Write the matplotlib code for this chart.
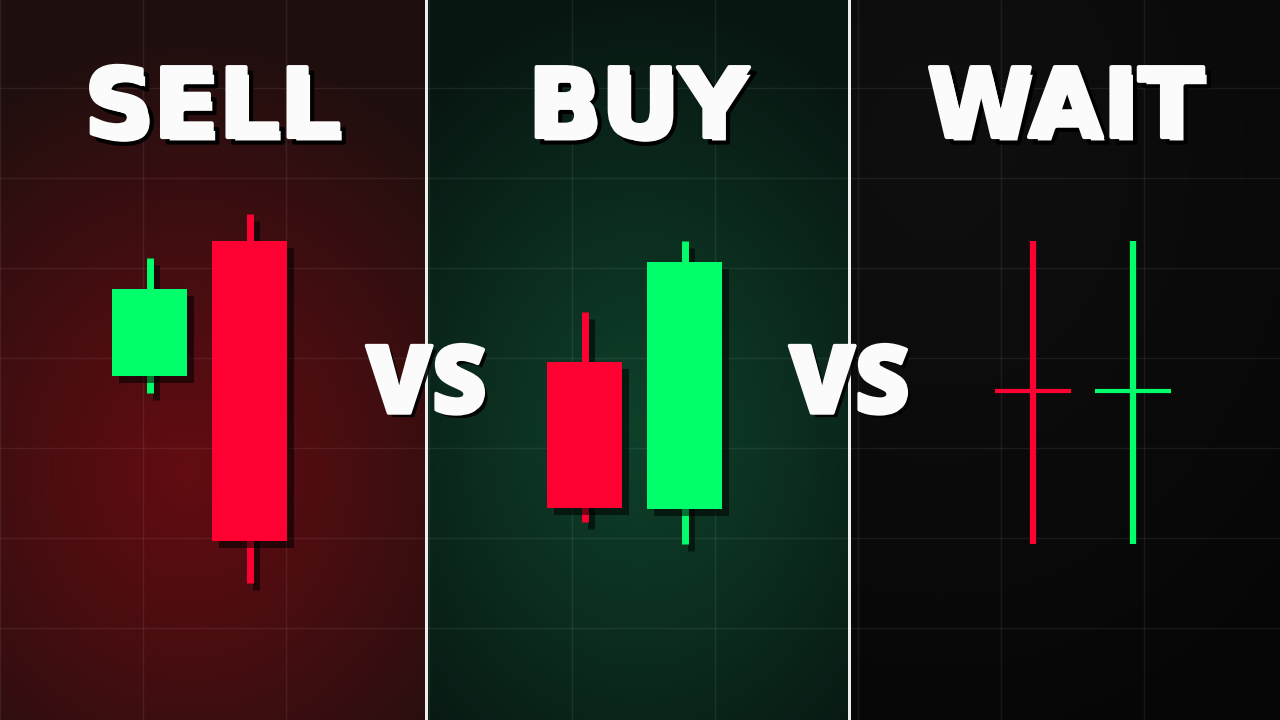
import numpy as np
import matplotlib
matplotlib.use("Agg")
import matplotlib.pyplot as plt
import matplotlib.patheffects as pe

# Candle data (arbitrary price units), one list per series
titles = ["SELL", "BUY", "WAIT"]

sell_open = [34.2, 47.7]
sell_high = [46.0, 50.4]
sell_low = [32.5, 13.5]
sell_close = [42.9, 17.7]

buy_open = [35.6, 20.9]
buy_high = [40.6, 47.7]
buy_low = [19.6, 17.4]
buy_close = [21.0, 45.6]

wait_open = [32.7, 32.7]
wait_high = [47.7, 47.7]
wait_low = [17.4, 17.4]
wait_close = [32.7, 32.7]
wait_side = ["bear", "bull"]  # dojis: colour is not given by open/close

RED = "#ff0033"
GREEN = "#00ff6a"

# layout (pixels of a 1280x720 canvas)
W, H = 1280, 720
panels_px = [(0, 425), (428, 848), (851, 1280)]
first_candle_px = [149.5, 584.5, 1033]
step_px = 100.0
grid_px = 143.0
ylim = (-0.2, 71.8)  # price = (718 - pixel_y) / 10

glows = [
    # centre (px), radii (px), inner rgb, outer rgb
    ((190, 470), (380, 440), (98, 12, 18), (30, 15, 14)),
    ((640, 430), (330, 430), (14, 64, 42), (8, 22, 17)),
    ((940, 150), (520, 650), (15, 15, 15), (6, 6, 6)),
]

fig = plt.figure(figsize=(12.8, 7.2), dpi=100)
fig.patch.set_facecolor("#eeeeee")

shadow_bar = [pe.SimplePatchShadow(offset=(5, -5), shadow_rgbFace="black", alpha=0.55), pe.Normal()]
shadow_line = [pe.SimpleLineShadow(offset=(5, -5), shadow_color="black", alpha=0.55), pe.Normal()]
title_fx = [
    pe.SimplePatchShadow(offset=(4, -4), shadow_rgbFace="black", alpha=1.0),
    pe.Stroke(offset=(4, -4), linewidth=3, foreground="black"),
    pe.Stroke(linewidth=3, foreground="#fbfbfb"),
    pe.Normal(),
]

series = [
    (sell_open, sell_high, sell_low, sell_close, None),
    (buy_open, buy_high, buy_low, buy_close, None),
    (wait_open, wait_high, wait_low, wait_close, wait_side),
]

for i, (p0, p1) in enumerate(panels_px):
    ax = fig.add_axes([p0 / W, 0, (p1 - p0) / W, 1])
    c0 = first_candle_px[i]
    xlim = ((p0 - c0) / step_px, (p1 - c0) / step_px)

    # background glow
    (cx, cy), (rx, ry), inner, outer = glows[i]
    X, Y = np.meshgrid(np.arange(p0, p1) + 0.5, np.arange(H) + 0.5)
    d = np.sqrt(((X - cx) / rx) ** 2 + ((Y - cy) / ry) ** 2)
    t = np.clip(d, 0, 1) ** 1.1
    img = (np.array(inner)[None, None, :] * (1 - t[..., None])
           + np.array(outer)[None, None, :] * t[..., None]) / 255.0
    ax.imshow(img, extent=(xlim[0], xlim[1], ylim[0], ylim[1]), aspect="auto", zorder=0)
    ax.set_xlim(xlim)
    ax.set_ylim(ylim)

    # grid
    gx = np.arange(np.ceil(p0 / grid_px), p1 / grid_px) * grid_px
    ax.set_xticks((gx - c0) / step_px)
    ax.set_yticks(np.arange(9, 64, 9))
    ax.grid(True, color="white", alpha=0.07, linewidth=1.0)
    ax.set_axisbelow(True)
    ax.tick_params(length=0, labelbottom=False, labelleft=False)
    for s in ax.spines.values():
        s.set_visible(False)

    o, h, l, c, side = series[i]
    o, h, l, c = map(np.array, (o, h, l, c))
    xs = np.arange(len(o))
    if side is None:
        cols = [GREEN if cc >= oo else RED for oo, cc in zip(o, c)]
    else:
        cols = [GREEN if s == "bull" else RED for s in side]

    is_doji = np.isclose(o, c)
    for x, oo, hh, ll, cc, col, dj in zip(xs, o, h, l, c, cols, is_doji):
        if dj:
            ax.vlines(x, ll, hh, color=col, linewidth=4.5, zorder=3)
            ax.hlines(oo, x - 0.38, x + 0.38, color=col, linewidth=3, zorder=3)
        else:
            ax.vlines(x, ll, hh, color=col, linewidth=5, zorder=2,
                      path_effects=shadow_line)
            bars = ax.bar(x, abs(cc - oo), bottom=min(oo, cc), width=0.75,
                          color=col, zorder=3)
            for b in bars:
                b.set_path_effects(shadow_bar)

    ax.text((p0 + p1) / 2 / W, 1 - 137 / H, titles[i], transform=fig.transFigure,
            ha="center", va="baseline", fontsize=69, fontweight="bold",
            family="DejaVu Sans", color="#fbfbfb", path_effects=title_fx, zorder=5)

# "VS" between panels
vs_fx = [
    pe.SimplePatchShadow(offset=(3, -3), shadow_rgbFace="black", alpha=0.9),
    pe.Stroke(linewidth=2.5, foreground="#fbfbfb"),
    pe.Normal(),
]
for (a, b) in zip(panels_px[:-1], panels_px[1:]):
    xc = (a[1] + b[0]) / 2
    fig.text(xc / W, 1 - 413 / H, "VS", ha="center", va="baseline",
             fontsize=68, fontweight=800,
             family=["Open Sans", "DejaVu Sans"],
             color="#fbfbfb", path_effects=vs_fx, zorder=10)

fig.savefig("out.png", dpi=100, facecolor=fig.get_facecolor())
